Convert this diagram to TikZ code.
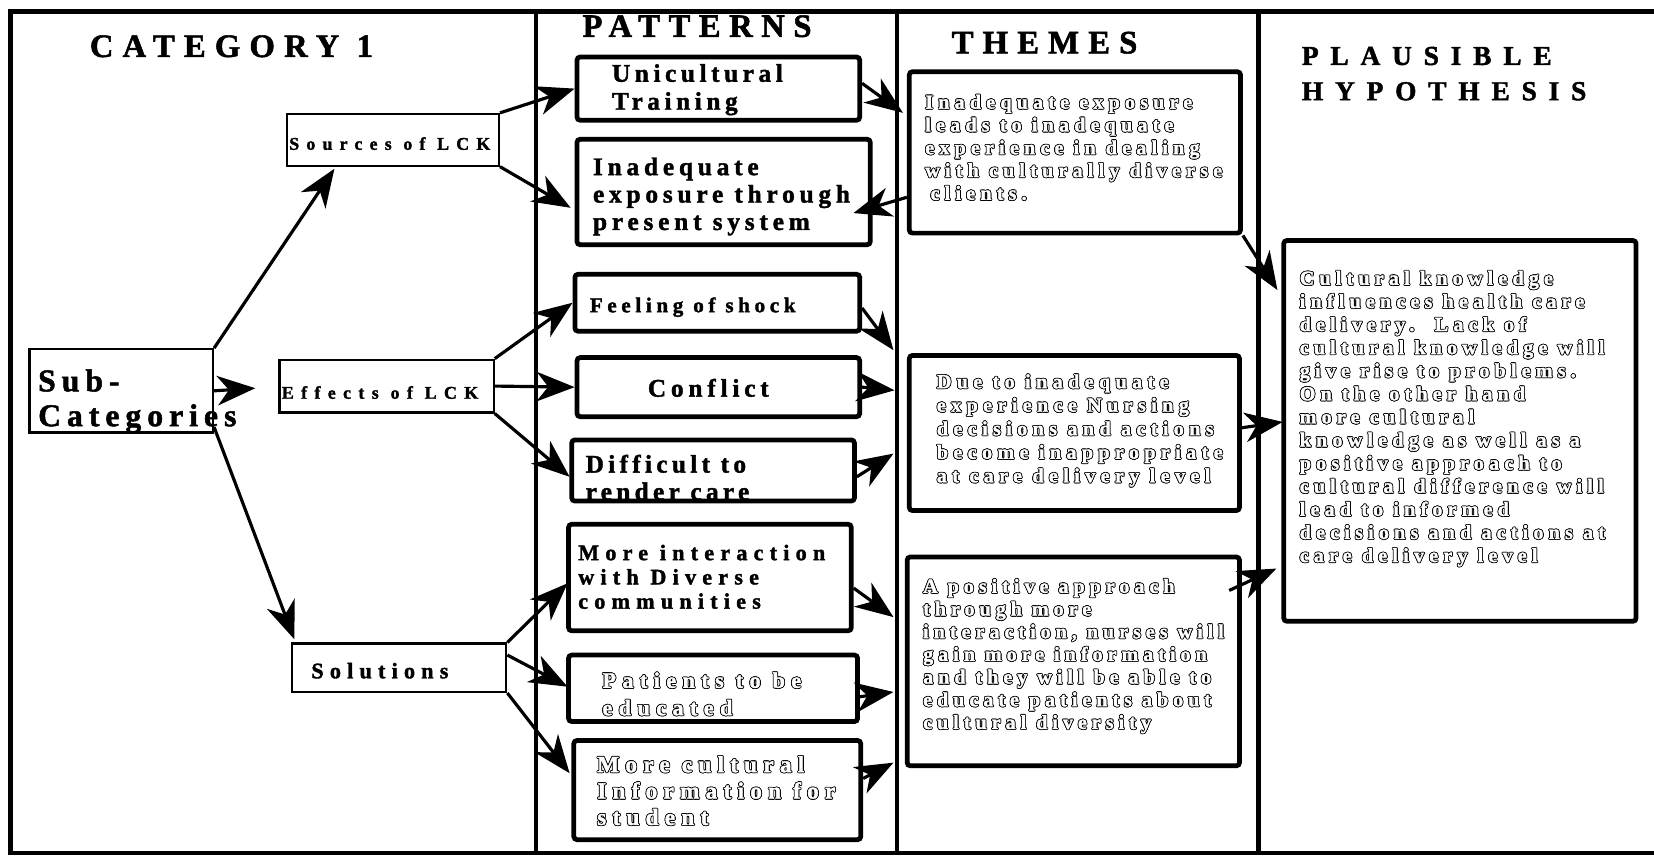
\documentclass[tikz,border=0pt]{standalone}
\usepackage{fontspec}
\setmainfont{Liberation Serif}
\usetikzlibrary{arrows.meta,calc}
\newcommand\fz[3]{\fontspec{Liberation Serif}[LetterSpace=#3,FakeBold=1.6]\fontsize{#1}{#2}\selectfont\bfseries}
\newcommand\oltc[3]{\rlap{\kern#1\raisebox{#2}{\textcolor{black}{#3}}}}
\newcommand\olt[1]{\hbox{\oltc{0.8pt}{0pt}{#1}\oltc{-0.8pt}{0pt}{#1}\oltc{0pt}{0.8pt}{#1}\oltc{0pt}{-0.8pt}{#1}\oltc{0.55pt}{0.55pt}{#1}\oltc{-0.55pt}{0.55pt}{#1}\oltc{0.55pt}{-0.55pt}{#1}\oltc{-0.55pt}{-0.55pt}{#1}\textcolor{white}{#1}}}
\newcommand\tline[1]{\hbox{#1}}
\begin{document}
\begin{tikzpicture}[x=1pt,y=-1pt,line join=miter,
  frame/.style={line width=4pt},
  thinbox/.style={draw,line width=2pt,inner sep=0pt},
  thickbox/.style={draw,line width=4.5pt,rounded corners=3pt,inner sep=0pt},
  lbl/.style={anchor=base west,inner sep=0pt},
  arr/.style={line width=3pt,-{Stealth[length=36pt,width=28pt,inset=11pt]}}]
\useasboundingbox (0,0) rectangle (1568,811);
\fill[white] (0,0) rectangle (1568,811);
% frame and columns
\draw[frame] (1568,11) -- (10,11) -- (10,809) -- (1568,809);
\draw[frame] (508,11) -- (508,809);
\draw[frame] (850,11) -- (850,809);
\draw[frame] (1193,11) -- (1193,809);
% headers
\node[lbl,font=\fz{31}{33}{28}] (hcat) at (85,54) {CATEGORY 1};
\node[lbl,font=\fz{31}{33}{26}] (hpat) at (552,35) {PATTERNS};
\node[lbl,font=\fz{31}{33}{28}] (hthm) at (902,50.6) {THEMES};
\node[lbl,font=\fz{26}{33.4}{43}] (hhyp) at (1234,61.6) {\vtop{\tline{PLAUSIBLE}\tline{HYPOTHESIS}}};
% left column
\node[thinbox,minimum width=174pt,minimum height=79pt] (sub) at (115,370.5) {};
\node[lbl,font=\fz{30}{33}{19}] (subT) at (36,371) {\vtop{\tline{Sub-}\tline{Categories}}};
\node[thinbox,minimum width=201pt,minimum height=49pt] (src) at (372.5,132.5) {};
\node[lbl,font=\fz{17}{20}{40}] (srcT) at (274,142) {Sources of LCK};
\node[thinbox,minimum width=203pt,minimum height=50pt] (eff) at (366.5,366) {};
\node[lbl,font=\fz{17}{20}{41}] (effT) at (267,378) {Effects of LCK};
\node[thinbox,minimum width=203pt,minimum height=46pt] (sol) at (378.5,633) {};
\node[lbl,font=\fz{21}{24}{28}] (solT) at (295,643) {Solutions};
% patterns
\node[thickbox,minimum width=268pt,minimum height=60pt] (unic) at (681,84) {};
\node[lbl,font=\fz{24}{26.5}{18}] (unicT) at (580,77.5) {\vtop{\tline{Unicultural}\tline{Training}}};
\node[thickbox,minimum width=278pt,minimum height=100pt] (inad) at (686,182) {};
\node[lbl,font=\fz{24}{26}{19}] (inadT) at (562,166) {\vtop{\tline{Inadequate}\tline{exposure through}\tline{present system}}};
\node[thickbox,minimum width=270pt,minimum height=54pt] (feel) at (680,287) {};
\node[lbl,font=\fz{20}{24}{22}] (feelT) at (559,296) {Feeling of shock};
\node[thickbox,minimum width=268pt,minimum height=56pt] (conf) at (681,367) {};
\node[lbl,font=\fz{24}{26}{19}] (confT) at (614,376) {Conflict};
\node[lbl,font=\fz{24}{26}{17}] (diffT) at (555,448) {\vtop{\tline{Difficult to}\tline{render care}}};
\node[thickbox,minimum width=268pt,minimum height=58pt] (diff) at (676,446) {};
\node[thickbox,minimum width=268pt,minimum height=101pt] (inter) at (673,547.5) {};
\node[lbl,font=\fz{21}{23}{28}] (interT) at (548,531) {\vtop{\tline{More interaction}\tline{with Diverse}\tline{communities}}};
\node[thickbox,minimum width=274pt,minimum height=63pt] (pat) at (676,652.5) {};
\node[lbl,font=\fz{21}{26}{29}] (patT) at (571,652) {\vtop{\olt{Patients to be}\olt{educated}}};
\node[thickbox,minimum width=272pt,minimum height=94pt] (mcul) at (680,749) {};
\node[lbl,font=\fz{22}{25}{27}] (mculT) at (566,732) {\vtop{\olt{More cultural}\olt{Information for}\olt{student}}};
% themes
\node[thickbox,minimum width=314pt,minimum height=153pt] (t1) at (1019,144.5) {};
\node[lbl,font=\fz{19}{21.6}{26}] (t1T) at (877,103) {\vtop{\olt{Inadequate exposure}\olt{leads to inadequate}\olt{experience in dealing}\olt{with culturally diverse}\hbox{\kern5pt\olt{clients.}}}};
\node[thickbox,minimum width=313pt,minimum height=147pt] (t2) at (1018.5,410.5) {};
\node[lbl,font=\fz{19}{22.3}{27}] (t2T) at (888,368) {\vtop{\olt{Due to inadequate}\olt{experience Nursing}\olt{decisions and actions}\olt{become inappropriate}\olt{at care delivery level}}};
\node[thickbox,minimum width=315pt,minimum height=198pt] (t3) at (1017.5,627) {};
\node[lbl,font=\fz{19}{21.5}{25}] (t3T) at (875,562) {\vtop{\olt{A positive approach}\olt{through more}\olt{interaction, nurses will}\olt{gain more information}\olt{and they will be able to}\olt{educate patients about}\olt{cultural diversity}}};
% hypothesis
\node[thickbox,minimum width=334pt,minimum height=361pt] (hyp) at (1384,408.5) {};
\node[lbl,font=\fz{19}{21.9}{26}] (hypT) at (1232,270) {\vtop{\olt{Cultural knowledge}\olt{influences health care}\olt{delivery.\ \ Lack of}\olt{cultural knowledge will}\olt{give rise to problems.}\olt{On the other hand}\olt{more cultural}\olt{knowledge as well as a}\olt{positive approach to}\olt{cultural difference will}\olt{lead to informed}\olt{decisions and actions at}\olt{care delivery level}}};
% coordinates for arrow tips
\coordinate (c1) at (317,160);
\coordinate (c2) at (242,368);
\coordinate (c3) at (279,606);
\coordinate (c5) at (541,197);
\coordinate (c8) at (540,452);
\coordinate (c9) at (538,553);
\coordinate (c10) at (538,651);
\coordinate (c11) at (540,733);
\coordinate (c12) at (856,107);
\coordinate (c13) at (809,202);
\coordinate (c14) at (847,332);
\coordinate (c15) at (848,370);
\coordinate (c16) at (847,430);
\coordinate (c17) at (847,585);
\coordinate (c18) at (847,656);
\coordinate (c19) at (847,723);
\coordinate (c20) at (1211,275);
\coordinate (c21) at (1216,400);
\coordinate (c22) at (1210,539);
% arrows
\draw[arr] (sub.north east) -- (c1);
\draw[arr] (sub.east) -- (c2);
\draw[arr] ([yshift=6pt]sub.south east) -- (c3);
\draw[arr] (src.north east) -- (unic.west);
\draw[arr] (src.south east) -- (c5);
\draw[arr] (eff.north east) -- (feel.west);
\draw[arr] (eff.east) -- (conf.west);
\draw[arr] (eff.south east) -- (c8);
\draw[arr] (sol.north east) -- (c9);
\draw[arr] ($(sol.north east)!0.25!(sol.south east)$) -- (c10);
\draw[arr] (sol.south east) -- (c11);
\draw[arr] ([yshift=5pt]unic.east) -- (c12);
\draw[arr] ([yshift=-42.5pt]t1.west) -- (c13);
\draw[arr] ([yshift=-5pt]feel.east) -- (c14);
\draw[arr] (conf.east) -- (c15);
\draw[arr] ([yshift=-6pt]diff.east) -- (c16);
\draw[arr] ([yshift=-10pt]inter.east) -- (c17);
\draw[arr] ([yshift=-8pt]pat.east) -- (c18);
\draw[arr] ([yshift=11pt]mcul.east) -- (c19);
\draw[arr] (t1.south east) -- (c20);
\draw[arr] ([yshift=5pt]t2.east) -- (c21);
\draw[arr] ([xshift=-12pt,yshift=-34pt]t3.north east) -- (c22);
\end{tikzpicture}
\end{document}
